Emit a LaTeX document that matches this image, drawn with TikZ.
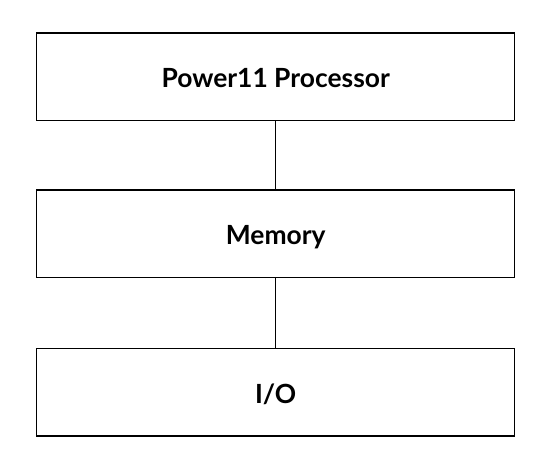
\documentclass[tikz,border=0pt]{standalone}
\usepackage{fontspec}
\setmainfont{Lato}
\begin{document}
\begin{tikzpicture}[x=1pt,y=-1pt,
  blk/.style={draw=black,line width=1.5pt,minimum width=478pt,minimum height=87.5pt,inner sep=0pt,text height=22pt,text depth=0pt,font=\fontsize{26.4}{30}\selectfont\bfseries},
  conn/.style={draw=black,line width=1.3pt}]
\useasboundingbox (0,0) rectangle (548,468);
\node[blk] (p) at (275.7,76.8) {Power11 Processor};
\node[blk] (m) at (275.7,233.7) {Memory};
\node[blk] (io) at (275.7,392) {I/O};
\draw[conn] (p) -- (m);
\draw[conn] (m) -- (io);
\end{tikzpicture}
\end{document}
